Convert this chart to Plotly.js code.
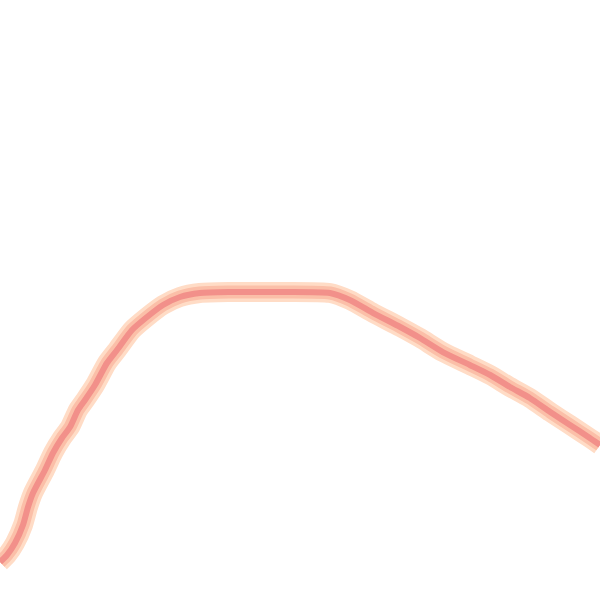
<!DOCTYPE html>
<html>
<head>
<meta charset="utf-8">
<script src="https://cdn.plot.ly/plotly-3.0.1.min.js"></script>
<style>
  html, body { margin: 0; padding: 0; background: #fff; }
  #chart { width: 600px; height: 600px; }
</style>
</head>
<body>
<div id="chart"></div>
<script>
// values (x 0..100, y 0..100)
const xVals = [0, 1.17, 2.5, 3.83, 4.67, 5.5, 7.5, 8.83, 10.33, 11.67, 13, 14.17, 15.83, 17.83,
  19.5, 22, 24.5, 27.17, 30, 33.3, 38.3, 45, 55, 58.3, 62.2, 66.7, 70, 73.8, 78.3, 81.7, 85,
  88.3, 91.7, 95, 98.3, 100];
const yVals = [6.33, 7.5, 9.5, 12.5, 15.5, 17.83, 21.67, 24.5, 27, 28.83, 31.67, 33.33, 35.83, 39.5,
  41.67, 45, 47.17, 49.17, 50.5, 51.17, 51.33, 51.33, 51.17, 50, 47.83, 45.5, 43.67, 41.33, 39.17, 37.5, 35.5,
  33.67, 31.33, 29.17, 27, 25.83];

const band = (w, c) => ({
  x: xVals, y: yVals, type: "scatter", mode: "lines",
  line: { color: c, width: w, shape: "spline", smoothing: 0.6 },
  hoverinfo: "skip", showlegend: false
});

const axis = { range: [0, 100], visible: false, showgrid: false, zeroline: false, fixedrange: true };

Plotly.newPlot("chart", [
  band(20, "#ffdcc6"),
  band(13, "#fbbfa8"),
  band(6, "#f2908a")
], {
  width: 600, height: 600,
  margin: { t: 0, r: 0, b: 0, l: 0 },
  xaxis: axis,
  yaxis: axis,
  paper_bgcolor: "#ffffff",
  plot_bgcolor: "#ffffff"
}, { displayModeBar: false, staticPlot: true });
</script>
</body>
</html>
